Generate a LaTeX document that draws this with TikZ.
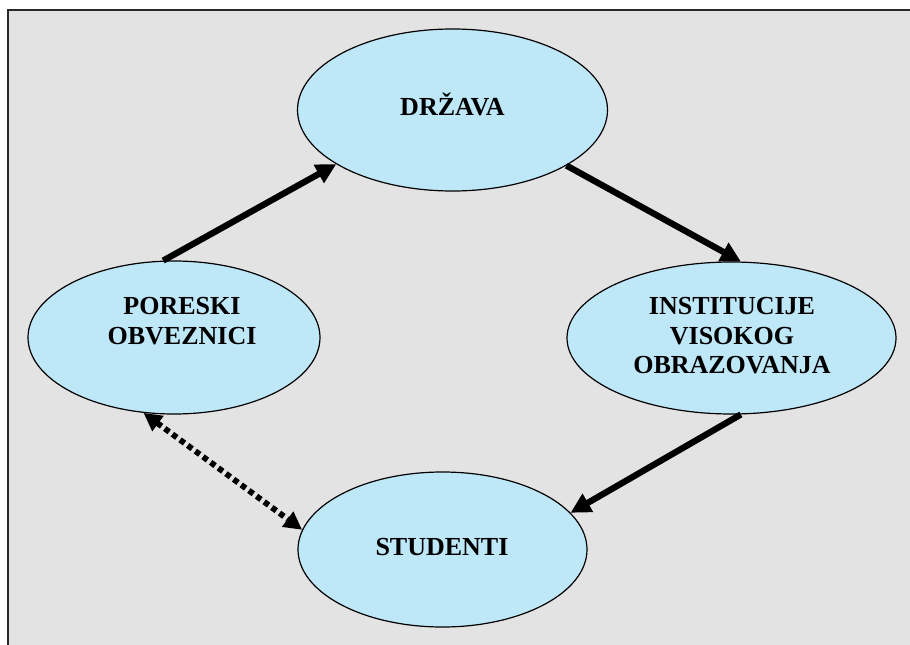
\documentclass[tikz,border=0pt]{standalone}
\usepackage{fontspec}
\setmainfont{Liberation Serif}
\usetikzlibrary{shapes.geometric,arrows.meta}
\definecolor{bgray}{RGB}{227,227,227}
\definecolor{eblue}{RGB}{190,231,248}
\definecolor{frame}{RGB}{40,40,40}
\tikzset{
  oval/.style={ellipse, draw=black, line width=1.2pt, fill=eblue, inner sep=0pt},
  lbl/.style={font=\bfseries\fontsize{26}{29.5}\selectfont, align=center, inner sep=0pt},
  arr/.style={line width=6.3pt, -{Triangle[length=20pt,width=20pt]}},
  dotarr/.style={line width=5.8pt, dash pattern=on 5.5pt off 4pt,
     {Triangle[length=18pt,width=18pt]}-{Triangle[length=18pt,width=18pt]}}
}
\begin{document}
\begin{tikzpicture}[x=1pt,y=-1pt]
\useasboundingbox (0,0) rectangle (910,645);
\fill[white] (0,0) rectangle (910,645);
\fill[bgray] (8,10) rectangle (910,645);
\draw[frame, line width=2.5pt] (910,10) -- (8,10) -- (8,645);

\node[oval, minimum width=310pt, minimum height=162pt] (drz) at (452.5,110) {};
\node[oval, minimum width=292pt, minimum height=153pt] (por) at (174,337.5) {};
\node[oval, minimum width=329pt, minimum height=152pt] (inst) at (731.5,338) {};
\node[oval, minimum width=289pt, minimum height=155pt] (stu) at (442.5,549.5) {};

\node[lbl] (tdrz) at (452.5,104) {DRŽAVA};
\node[lbl] (tpor) at (182,321) {PORESKI\\OBVEZNICI};
\node[lbl] (tinst) at (732,336) {INSTITUCIJE\\VISOKOG\\OBRAZOVANJA};
\node[lbl] (tstu) at (442,547) {STUDENTI};

\draw[arr] (por.98) -- (drz.205);
\draw[arr] (drz.334.5) -- (inst.83.6);
\draw[arr] (inst.277.8) -- (stu.16.8);
\draw[dotarr] (por.248.2) -- (stu.172.3);
\end{tikzpicture}
\end{document}
